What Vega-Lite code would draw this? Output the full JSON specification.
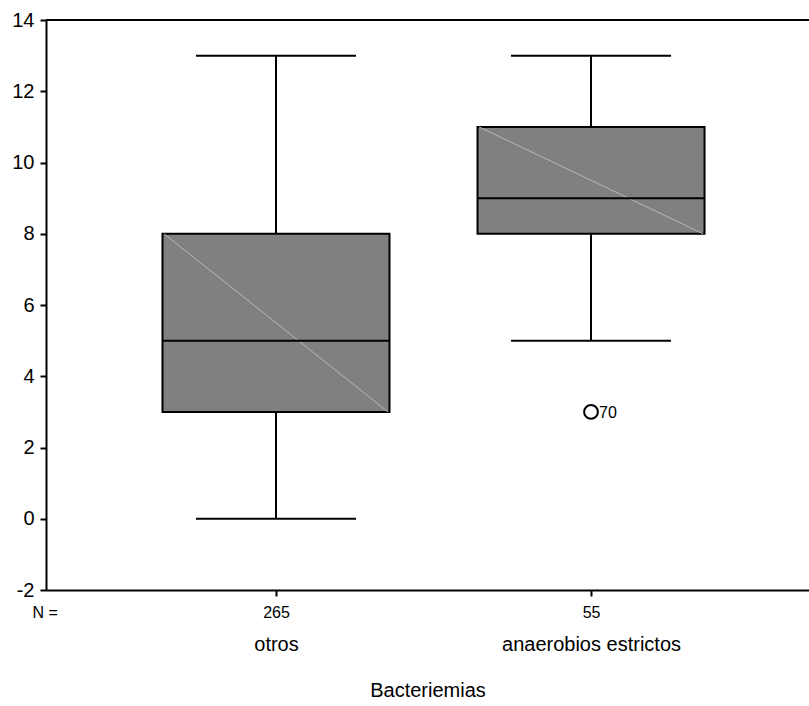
{
  "$schema": "https://vega.github.io/schema/vega-lite/v6.json",
  "width": 763,
  "height": 570,
  "autosize": {"type": "none"},
  "padding": {"left": 46, "top": 20, "right": 0, "bottom": 116},
  "background": "white",
  "config": {
    "view": {"stroke": null},
    "font": "Liberation Sans",
    "axis": {
      "labelFont": "Liberation Sans",
      "titleFont": "Liberation Sans",
      "labelColor": "black",
      "titleColor": "black",
      "domainColor": "black",
      "tickColor": "black",
      "grid": false,
      "titleFontWeight": "normal"
    }
  },
  "datasets": {
    "cajas": [
      {"grupo": "otros", "n": 265, "min": 0, "q1": 3, "mediana": 5, "q3": 8, "max": 13},
      {"grupo": "anaerobios estrictos", "n": 55, "min": 5, "q1": 8, "mediana": 9, "q3": 11, "max": 13}
    ],
    "atipicos": [
      {"grupo": "anaerobios estrictos", "valor": 3, "caso": "70"}
    ]
  },
  "resolve": {"axis": {"x": "independent"}},
  "layer": [
    {
      "data": {"name": "cajas"},
      "mark": {"type": "rule", "color": "black", "strokeWidth": 2},
      "encoding": {
        "x": {
          "field": "grupo", "type": "nominal",
          "scale": {"type": "point", "domain": ["otros", "anaerobios estrictos"], "padding": 0.711, "align": 0.5134},
          "axis": null
        },
        "y": {
          "field": "min", "type": "quantitative", "title": null,
          "scale": {"domain": [-2, 14], "nice": false, "zero": false},
          "axis": {
            "values": [-2, 0, 2, 4, 6, 8, 10, 12, 14],
            "labelExpr": "datum.value < 0 ? '-' + abs(datum.value) : '' + datum.value",
            "labelFontSize": 20,
            "domainWidth": 2,
            "tickWidth": 2,
            "tickSize": 6,
            "labelPadding": 6,
            "title": null
          }
        },
        "y2": {"field": "q1"}
      }
    },
    {
      "data": {"name": "cajas"},
      "mark": {"type": "rule", "color": "black", "strokeWidth": 2},
      "encoding": {
        "x": {"field": "grupo", "type": "nominal", "axis": null},
        "y": {"field": "q3", "type": "quantitative", "title": null},
        "y2": {"field": "max"}
      }
    },
    {
      "data": {"name": "cajas"},
      "mark": {"type": "rule", "color": "black", "strokeWidth": 2},
      "encoding": {
        "y": {"datum": 14, "type": "quantitative", "title": null}
      }
    },
    {
      "data": {"name": "cajas"},
      "mark": {"type": "bar", "width": 227, "fill": "#808080", "stroke": "black", "strokeWidth": 2},
      "encoding": {
        "x": {
          "field": "grupo", "type": "nominal",
          "axis": {
            "orient": "bottom",
            "labelExpr": "datum.value == 'otros' ? '265' : '55'",
            "labelFontSize": 16,
            "labelPadding": 8,
            "labelAngle": 0,
            "domainWidth": 2,
            "tickWidth": 2,
            "tickSize": 6,
            "title": "N =",
            "titleFontSize": 16,
            "titleAnchor": "start",
            "titleAlign": "left",
            "titleBaseline": "alphabetic",
            "titleX": -14,
            "titleY": 27
          }
        },
        "y": {"field": "q1", "type": "quantitative", "title": null},
        "y2": {"field": "q3"}
      }
    },
    {
      "data": {"name": "cajas"},
      "mark": {"type": "rule", "color": "#b8b8b8", "strokeWidth": 1, "xOffset": -112, "x2Offset": 112},
      "encoding": {
        "x": {"field": "grupo", "type": "nominal", "axis": null},
        "x2": {"field": "grupo"},
        "y": {"field": "q3", "type": "quantitative", "title": null},
        "y2": {"field": "q1"}
      }
    },
    {
      "data": {"name": "cajas"},
      "mark": {"type": "tick", "color": "black", "size": 227, "thickness": 2, "opacity": 1},
      "encoding": {
        "x": {
          "field": "grupo", "type": "nominal",
          "axis": {
            "orient": "bottom",
            "domain": false,
            "ticks": false,
            "tickSize": 0,
            "labelFontSize": 20,
            "labelPadding": 44,
            "labelAngle": 0,
            "title": "Bacteriemias",
            "titleFontSize": 20,
            "titleAnchor": "middle",
            "titleAlign": "center",
            "titleBaseline": "alphabetic",
            "titleX": 381.5,
            "titleY": 106
          }
        },
        "y": {"field": "mediana", "type": "quantitative", "title": null}
      }
    },
    {
      "data": {"name": "cajas"},
      "mark": {"type": "tick", "color": "black", "size": 160, "thickness": 2, "opacity": 1},
      "encoding": {
        "x": {"field": "grupo", "type": "nominal", "axis": null},
        "y": {"field": "min", "type": "quantitative", "title": null}
      }
    },
    {
      "data": {"name": "cajas"},
      "mark": {"type": "tick", "color": "black", "size": 160, "thickness": 2, "opacity": 1},
      "encoding": {
        "x": {"field": "grupo", "type": "nominal", "axis": null},
        "y": {"field": "max", "type": "quantitative", "title": null}
      }
    },
    {
      "data": {"name": "atipicos"},
      "mark": {"type": "point", "shape": "circle", "size": 190, "filled": false, "fill": "white", "stroke": "black", "strokeWidth": 2, "opacity": 1},
      "encoding": {
        "x": {"field": "grupo", "type": "nominal", "axis": null},
        "y": {"field": "valor", "type": "quantitative", "title": null}
      }
    },
    {
      "data": {"name": "atipicos"},
      "mark": {"type": "text", "align": "left", "baseline": "middle", "dx": 8, "dy": 1, "fontSize": 16, "font": "Liberation Sans", "color": "black"},
      "encoding": {
        "x": {"field": "grupo", "type": "nominal", "axis": null},
        "y": {"field": "valor", "type": "quantitative", "title": null},
        "text": {"field": "caso"}
      }
    }
  ]
}
